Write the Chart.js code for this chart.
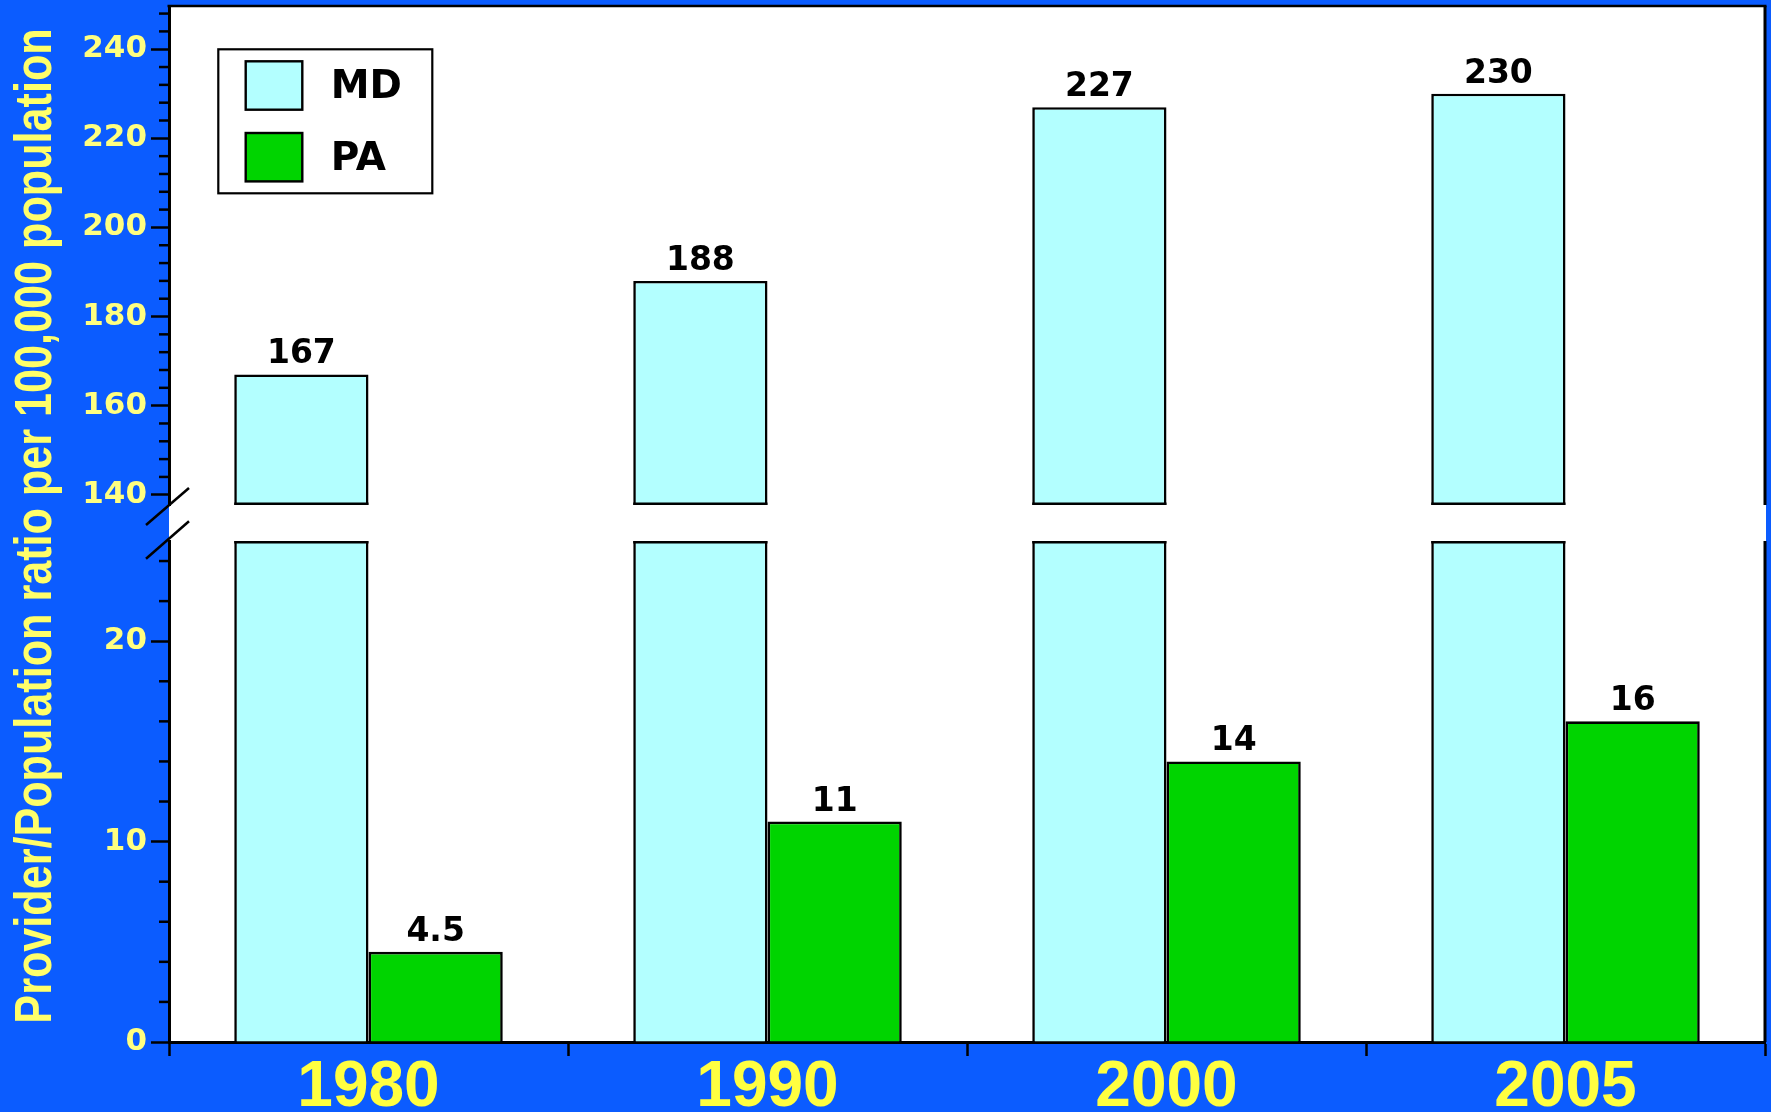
<!DOCTYPE html>
<html><head><meta charset="utf-8">
<script src="https://cdn.jsdelivr.net/npm/chart.js@4.4.1/dist/chart.umd.min.js"></script>
<style>
html,body{margin:0;padding:0;background:#0b5cff;width:1771px;height:1112px;overflow:hidden}
#bg{position:absolute;left:169px;top:6px;width:1597px;height:1036px;background:#ffffff}
canvas{position:absolute;left:0;top:0}
</style></head><body>
<div id="bg"></div>
<canvas id="lower" width="1771" height="1112"></canvas>
<canvas id="upper" width="1771" height="1112"></canvas>
<script>
// ---- data ----
const categories = ['1980', '1990', '2000', '2005'];
const seriesLabels = ['MD', 'PA'];
const mdValues = [167, 188, 227, 230];
const paValues = [4.5, 11, 14, 16];
const upperTicks = [140, 160, 180, 200, 220, 240];
const lowerTicks = [0, 10, 20];
const yTitle = 'Provider/Population ratio per 100,000 population';

// ---- styles ----
const MD_COLOR = '#b3ffff';
const PA_COLOR = '#00d400';
const TICK_YELLOW = '#ffff80';
const X_YELLOW = '#ffff40';
const TITLE_YELLOW = '#ffff6a';

function datasets() {
  const common = {borderColor: '#000', borderWidth: 2.6, borderSkipped: 'start',
    categoryPercentage: 0.673, barPercentage: 1, clip: 0};
  return [
    Object.assign({label: seriesLabels[0], data: mdValues, backgroundColor: MD_COLOR}, common),
    Object.assign({label: seriesLabels[1], data: paValues, backgroundColor: PA_COLOR}, common)
  ];
}

function line(ctx, x1, y1, x2, y2, w) {
  ctx.lineWidth = w; ctx.strokeStyle = '#000';
  ctx.beginPath(); ctx.moveTo(x1, y1); ctx.lineTo(x2, y2); ctx.stroke();
}

const decor = {
  id: 'decor',
  afterDatasetsDraw(chart, args, opts) {
    const ctx = chart.ctx, ca = chart.chartArea, y = chart.scales.y;
    ctx.save();
    chart.data.datasets.forEach((ds, di) => {
      const meta = chart.getDatasetMeta(di);
      meta.data.forEach((el, i) => {
        const v = ds.data[i];
        const x1 = el.x - el.width / 2, x2 = el.x + el.width / 2;
        if (opts.part === 'lower' && v > y.max) line(ctx, x1, ca.top + 1.3, x2, ca.top + 1.3, 2.6);
        if (opts.part === 'upper' && v >= y.min) line(ctx, x1, ca.bottom - 1.3, x2, ca.bottom - 1.3, 2.6);
        if (v >= y.min && v <= y.max) {
          ctx.fillStyle = '#000';
          ctx.font = 'bold 33px "DejaVu Sans"';
          ctx.textAlign = 'center'; ctx.textBaseline = 'alphabetic';
          ctx.fillText(String(v), el.x, el.y - 11);
        }
      });
    });
    ctx.restore();
  },
  afterDraw(chart, args, opts) {
    const ctx = chart.ctx, ca = chart.chartArea, y = chart.scales.y;
    ctx.save();
    // minor ticks
    const step = opts.minorStep;
    for (let v = Math.ceil(y.min / step) * step; v <= y.max; v += step) {
      if (opts.majors.includes(v)) continue;
      const py = y.getPixelForValue(v);
      line(ctx, ca.left - 10, py, ca.left, py, 2.5);
    }
    // right border
    line(ctx, ca.right, ca.top, ca.right, ca.bottom, 3);
    if (opts.part === 'upper') {
      line(ctx, ca.left - 1.5, ca.top, ca.right + 1.5, ca.top, 2.5);
      // break slashes
      line(ctx, ca.left - 23, ca.bottom + 20, ca.left + 20, ca.bottom - 17, 2.5);
      // legend
      const bx = ca.left + 49.3, by = ca.top + 43.3;
      ctx.fillStyle = '#fff'; ctx.fillRect(bx, by, 214, 144);
      ctx.lineWidth = 2.2; ctx.strokeStyle = '#000'; ctx.strokeRect(bx, by, 214, 144);
      const rows = [12, 83.7], bases = [48.6, 120.2];
      chart.data.datasets.forEach((ds, i) => {
        ctx.fillStyle = ds.backgroundColor;
        ctx.fillRect(bx + 27.4, by + rows[i], 56.6, 48.4);
        ctx.lineWidth = 2.4; ctx.strokeRect(bx + 27.4, by + rows[i], 56.6, 48.4);
        ctx.fillStyle = '#000'; ctx.font = 'bold 39px "DejaVu Sans"';
        ctx.textAlign = 'left'; ctx.textBaseline = 'alphabetic';
        ctx.fillText(ds.label, bx + 112.5, by + bases[i]);
      });
    } else {
      line(ctx, ca.left - 23, ca.top + 17.7, ca.left + 20, ca.top - 19.7, 2.5);
      // y-axis title
      ctx.translate(51, 526);
      ctx.rotate(-Math.PI / 2);
      ctx.scale(0.83, 1);
      ctx.fillStyle = TITLE_YELLOW;
      ctx.font = 'bold 52px "Liberation Sans", Arial, sans-serif';
      ctx.textAlign = 'center'; ctx.textBaseline = 'alphabetic';
      ctx.fillText(yTitle, 0, 0);
    }
    ctx.restore();
  }
};

const yTickFont = {family: 'DejaVu Sans', weight: 'bold', size: 31};
function yScale(min, max, majors) {
  return {
    min: min, max: max,
    afterBuildTicks: s => { s.ticks = majors.map(v => ({value: v})); },
    afterFit: s => { s.width = 169; s.paddingTop = 0; s.paddingBottom = 0; },
    grid: {drawOnChartArea: false, tickLength: 18, tickWidth: 2.5, tickColor: '#000'},
    border: {display: true, color: '#000', width: 3},
    ticks: {padding: 4, color: TICK_YELLOW, font: yTickFont}
  };
}

new Chart(document.getElementById('lower'), {
  type: 'bar',
  data: {labels: categories, datasets: datasets()},
  options: {
    responsive: false, animation: false, devicePixelRatio: 1, events: [],
    layout: {padding: {top: 541, bottom: 0, left: 0, right: 6}},
    plugins: {legend: {display: false}, tooltip: {enabled: false},
      decor: {part: 'lower', minorStep: 2, majors: lowerTicks}},
    scales: {
      x: {
        offset: true,
        afterFit: s => { s.height = 70; s.paddingLeft = 0; s.paddingRight = 0; },
        grid: {drawOnChartArea: false, tickLength: 14, tickWidth: 2.5, tickColor: '#000', offset: true},
        border: {display: true, color: '#000', width: 3},
        ticks: {padding: 0, color: X_YELLOW, maxRotation: 0, autoSkip: false,
          font: {family: 'Liberation Sans', weight: 'bold', size: 64, lineHeight: 1}}
      },
      y: yScale(0, 25, lowerTicks)
    }
  },
  plugins: [decor]
});

new Chart(document.getElementById('upper'), {
  type: 'bar',
  data: {labels: categories, datasets: datasets()},
  options: {
    responsive: false, animation: false, devicePixelRatio: 1, events: [],
    layout: {padding: {top: 6, bottom: 607, left: 0, right: 6}},
    plugins: {legend: {display: false}, tooltip: {enabled: false},
      decor: {part: 'upper', minorStep: 4, majors: upperTicks}},
    scales: {
      x: {display: false, offset: true},
      y: yScale(137.7, 249.7, upperTicks)
    }
  },
  plugins: [decor]
});
</script>
</body></html>
